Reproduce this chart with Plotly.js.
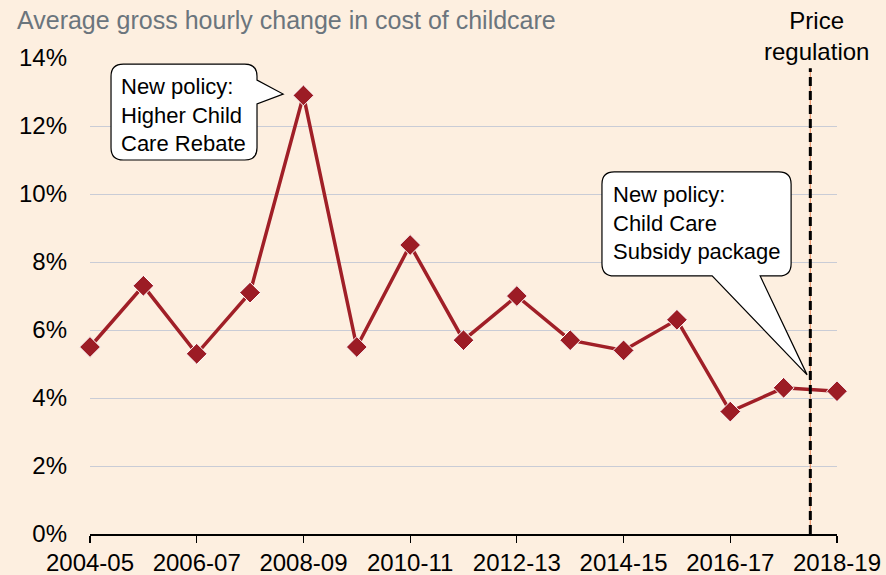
<!DOCTYPE html>
<html>
<head>
<meta charset="utf-8">
<script src="https://cdn.plot.ly/plotly-3.0.1.min.js"></script>
<style>
  html, body { margin: 0; padding: 0; background: #fdefe0; }
  #chart { width: 886px; height: 575px; }
</style>
</head>
<body>
<div id="chart"></div>
<script>
// ---- Data ----
const years = ["2004-05","2005-06","2006-07","2007-08","2008-09","2009-10","2010-11",
               "2011-12","2012-13","2013-14","2014-15","2015-16","2016-17","2017-18","2018-19"];
const costChange = [5.5, 7.3, 5.3, 7.1, 12.9, 5.5, 8.5, 5.7, 7.0, 5.7, 5.4, 6.3, 3.6, 4.3, 4.2];
const yTickVals = [0, 2, 4, 6, 8, 10, 12, 14];
const yTickText = ["0%","2%","4%","6%","8%","10%","12%","14%"];
const chartTitle = "Average gross hourly change in cost of childcare";
const regulationLabel = "Price<br>regulation";
const callout1Text = "New policy:<br>Higher Child<br>Care Rebate";
const callout2Text = "New policy:<br>Child Care<br>Subsidy package";

// ---- Derived ----
const xIdx = years.map((_, i) => i);
const xTickVals = xIdx.filter(i => i % 2 === 0);
const xTickText = xTickVals.map(i => years[i]);

const FONT = "Liberation Sans, Arial, sans-serif";
const BG = "#fdefe0";

function callout(x0, x1, y0, y1, rx, ry, tail) {
  // rounded rectangle with a tail
  let p = `M ${x0+rx},${y1} L ${x1-rx},${y1} Q ${x1},${y1} ${x1},${y1-ry} `;
  if (tail.side === 'right') p += `L ${x1},${tail.a} L ${tail.tx},${tail.ty} L ${x1},${tail.b} `;
  p += `L ${x1},${y0+ry} Q ${x1},${y0} ${x1-rx},${y0} `;
  if (tail.side === 'bottom') p += `L ${tail.a},${y0} L ${tail.tx},${tail.ty} L ${tail.b},${y0} `;
  p += `L ${x0+rx},${y0} Q ${x0},${y0} ${x0},${y0+ry} L ${x0},${y1-ry} Q ${x0},${y1} ${x0+rx},${y1} Z`;
  return p;
}

const trace = {
  x: xIdx,
  y: costChange,
  type: 'scatter',
  mode: 'lines+markers',
  line: { color: '#a01f27', width: 3.5 },
  marker: { symbol: 'diamond', size: 16, color: '#9c1c25', line: { color: '#ffffff', width: 1 } },
  cliponaxis: false,
  hoverinfo: 'skip'
};

const layout = {
  width: 886, height: 575,
  paper_bgcolor: BG, plot_bgcolor: BG,
  margin: { l: 90, r: 49, t: 58, b: 41 },
  showlegend: false,
  font: { family: FONT, size: 24, color: '#000' },
  xaxis: {
    range: [0, 14],
    tickvals: xTickVals, ticktext: xTickText,
    showgrid: false, zeroline: false,
    showline: true, linecolor: '#000', linewidth: 1.5,
    ticks: 'outside', ticklen: 7, tickwidth: 1.2, tickcolor: '#000',
    tickfont: { family: FONT, size: 24, color: '#000' }
  },
  yaxis: {
    range: [0, 14],
    tickvals: yTickVals, ticktext: yTickText,
    showgrid: true, gridcolor: '#c9ccd6', gridwidth: 1,
    zeroline: false, showline: false, ticks: '',
    ticklabelstandoff: 22,
    tickfont: { family: FONT, size: 24, color: '#000' }
  },
  shapes: [
    { type: 'line', xref: 'x', yref: 'y', x0: 13.5, x1: 13.5, y0: 0, y1: 13.7,
      line: { color: '#e8946a', width: 1.2 }, layer: 'above' },
    { type: 'line', xref: 'x', yref: 'y', x0: 13.5, x1: 13.5, y0: 0, y1: 13.7,
      line: { color: '#000', width: 3, dash: '9px,5px' }, layer: 'above' },
    { type: 'path', xref: 'x', yref: 'y', layer: 'above',
      path: callout(0.394, 3.13, 11.0, 13.82, 0.23, 0.36,
                    { side: 'right', a: 13.35, b: 12.65, tx: 3.62, ty: 12.94 }),
      fillcolor: '#ffffff', line: { color: '#000', width: 1.2 } },
    { type: 'path', xref: 'x', yref: 'y', layer: 'above',
      path: callout(9.595, 13.14, 7.59, 10.65, 0.23, 0.36,
                    { side: 'bottom', a: 12.56, b: 11.66, tx: 13.44, ty: 4.68 }),
      fillcolor: '#ffffff', line: { color: '#000', width: 1.2 } }
  ],
  annotations: [
    { text: chartTitle, xref: 'paper', yref: 'paper', x: -0.1004, y: 1.0798,
      xanchor: 'left', yanchor: 'middle', showarrow: false,
      font: { family: FONT, size: 25, color: '#6b757d' } },
    { text: regulationLabel, xref: 'x', yref: 'paper', x: 13.62, y: 1.046,
      xanchor: 'center', yanchor: 'middle', showarrow: false,
      font: { family: FONT, size: 24, color: '#000' } },
    { text: callout1Text, xref: 'x', yref: 'y', x: 0.55, y: 12.32,
      xanchor: 'left', yanchor: 'middle', align: 'left', showarrow: false,
      font: { family: FONT, size: 22, color: '#000' } },
    { text: callout2Text, xref: 'x', yref: 'y', x: 9.76, y: 9.16,
      xanchor: 'left', yanchor: 'middle', align: 'left', showarrow: false,
      font: { family: FONT, size: 22, color: '#000' } }
  ]
};

Plotly.newPlot('chart', [trace], layout, { displayModeBar: false, staticPlot: true });
</script>
</body>
</html>
